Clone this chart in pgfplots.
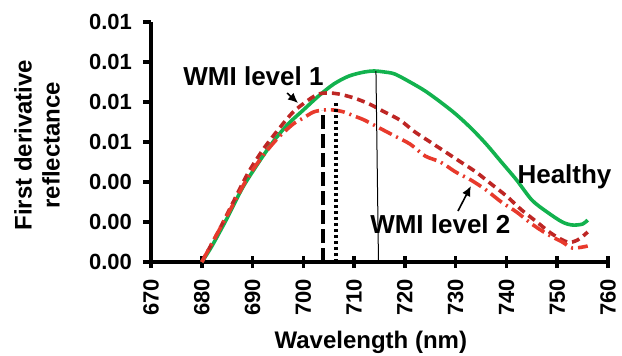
\documentclass[border=0pt]{standalone}
\usepackage{fontspec}
\setmainfont{Liberation Sans}
\usepackage{pgfplots}
\pgfplotsset{compat=1.18}
\usetikzlibrary{arrows.meta}
\definecolor{healthy}{RGB}{18,178,78}
\definecolor{wmione}{RGB}{190,38,36}
\definecolor{wmitwo}{RGB}{232,58,44}
\begin{document}
\begin{tikzpicture}
\begin{axis}[
  scale only axis,
  width=228.5pt, height=120pt,
  xmin=670, xmax=760, ymin=0, ymax=0.012,
  axis x line*=bottom, axis y line*=left,
  axis line style={line width=2.4pt},
  every tick/.style={black, line width=1.8pt},
  xtick={670,680,...,760},
  ytick={0,0.002,...,0.0121},
  yticklabels={0.00,0.00,0.00,0.01,0.01,0.01,0.01},
  scaled y ticks=false,
  xtick align=center, ytick align=outside,
  major tick length=4pt,
  xtick style={/pgfplots/major tick length=6pt},
  /pgf/number format/assume math mode=true,
  /pgf/number format/1000 sep={},
  tick label style={font=\bfseries\fontsize{11}{13}\selectfont},
  xticklabel style={rotate=90, anchor=east, xshift=-3pt},
  yticklabel style={xshift=-2pt},
  xlabel={Wavelength (nm)},
  xlabel style={font=\bfseries\fontsize{12}{14}\selectfont, at={(axis description cs:0.481,-0.335)}, anchor=center},
  ylabel={First derivative\\reflectance},
  ylabel style={font=\bfseries\fontsize{12}{14}\selectfont, align=center, rotate=0, at={(axis description cs:-0.2495,0.4875)}, anchor=center},
  clip=false,
]
% Healthy
\addplot[healthy, line width=1.8pt, smooth] coordinates {
(680,0.0000) (682,0.0008) (685,0.0022) (688,0.0037) (691,0.0049) (694,0.0060)
(697,0.0069) (700,0.0076) (703,0.0083) (706,0.0089) (709,0.0093) (712,0.0095)
(714,0.00955) (716,0.0095) (718,0.0094) (721,0.0090) (724,0.00855) (727,0.0080)
(730,0.0074) (733,0.0067) (736,0.0059) (739,0.0050) (742,0.0041) (745,0.0031)
(748,0.0025) (751,0.0020) (753,0.00185) (755,0.0019) (756,0.0021)
};
% WMI level 1
\addplot[wmione, line width=1.8pt, smooth, dash pattern=on 4pt off 2.5pt] coordinates {
(680,0.0000) (683,0.0014) (686,0.0029) (689,0.0044) (692,0.0056) (695,0.0066)
(698,0.0075) (701,0.0081) (703,0.0084) (705,0.00845) (707,0.0084) (710,0.0082)
(713,0.0079) (716,0.0075) (719,0.0071) (722,0.0065) (725,0.0060) (728,0.0055)
(731,0.0050) (734,0.0045) (737,0.0039) (740,0.0033) (743,0.0026) (746,0.0020)
(749,0.0014) (752,0.0010) (754,0.0011) (756,0.0015)
};
% WMI level 2
\addplot[wmitwo, line width=1.8pt, smooth, dash pattern=on 7pt off 2.5pt on 1pt off 2.5pt] coordinates {
(680,0.0000) (683,0.0014) (686,0.0028) (689,0.0042) (692,0.0053) (695,0.0062)
(698,0.0069) (700,0.0072) (702,0.0075) (704,0.0076) (706,0.0076) (708,0.0075)
(710,0.0073) (712,0.0071) (715,0.0067) (718,0.0063) (721,0.0059) (724,0.0053)
(727,0.0050) (730,0.0045) (733,0.0041) (736,0.0036) (739,0.0030) (742,0.0025)
(745,0.0019) (748,0.0014) (751,0.0010) (753,0.0007) (756,0.0008)
};
% vertical markers
\addplot[black, line width=2pt, dash pattern=on 7pt off 2.5pt] coordinates {(703.9,0) (703.9,0.0076)};
\addplot[black, line width=2pt, dash pattern=on 1.5pt off 1.5pt] coordinates {(706.5,0) (706.5,0.0080)};
\addplot[black, line width=0.5pt] coordinates {(714.3,0.00955) (714.8,0)};
% annotations
\node[anchor=base west, inner sep=0pt, font=\bfseries\fontsize{13}{15}\selectfont] at (axis cs:676.3,0.00885) {WMI level 1};
\node[anchor=base west, inner sep=0pt, font=\bfseries\fontsize{13}{15}\selectfont] at (axis cs:713.1,0.00145) {WMI level 2};
\node[anchor=base west, inner sep=0pt, font=\bfseries\fontsize{13}{15}\selectfont] at (axis cs:742.1,0.00395) {Healthy};
\draw[line width=0.8pt, -{Latex[length=5pt,width=4.5pt]}] (axis cs:696.8,0.00845) -- (axis cs:698.95,0.00795);
\draw[line width=0.8pt, -{Latex[length=5pt,width=4.5pt]}] (axis cs:730.45,0.00255) -- (axis cs:733.0,0.0038);
\coordinate (bbll) at (rel axis cs:-0.3304,-0.3875);
\coordinate (bbur) at (rel axis cs:1.0306,1.0917);
\end{axis}
\pgfresetboundingbox
\path[use as bounding box] (bbll) rectangle (bbur);
\end{tikzpicture}
\end{document}
